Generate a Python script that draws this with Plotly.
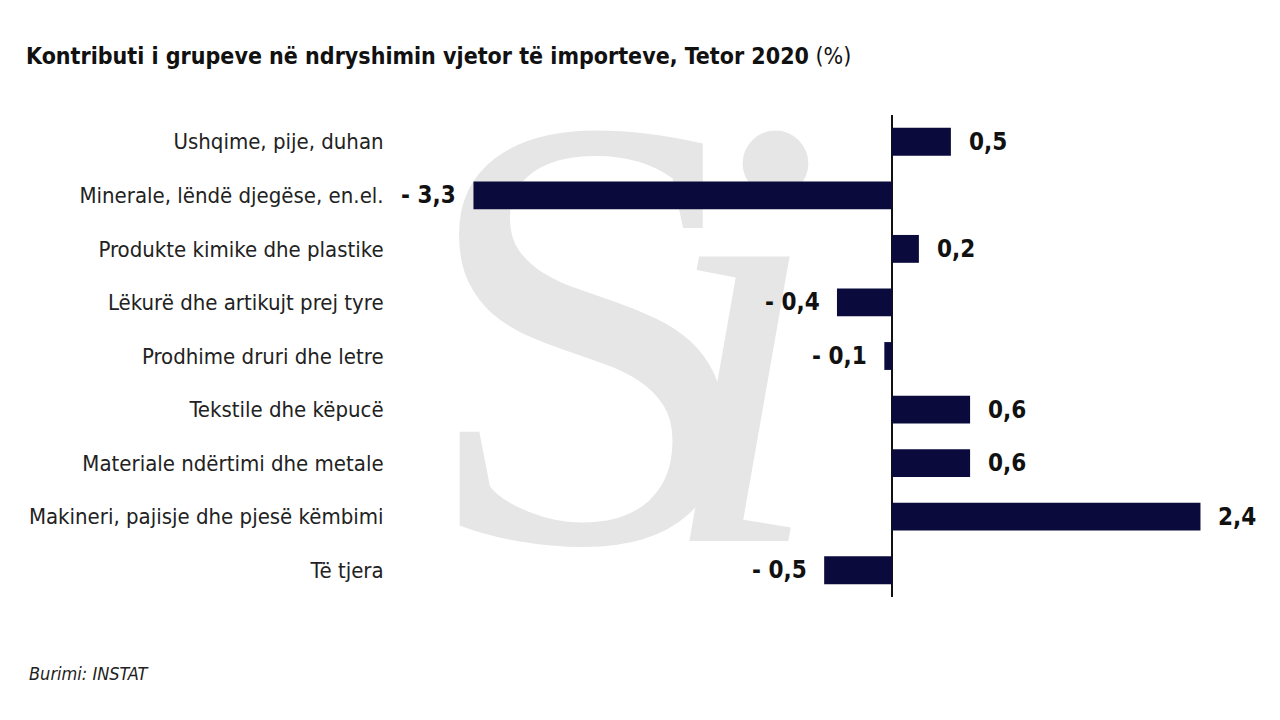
import plotly.graph_objects as go

categories = [
    "Ushqime, pije, duhan",
    "Minerale, lëndë djegëse, en.el.",
    "Produkte kimike dhe plastike",
    "Lëkurë dhe artikujt prej tyre",
    "Prodhime druri dhe letre",
    "Tekstile dhe këpucë",
    "Materiale ndërtimi dhe metale",
    "Makineri, pajisje dhe pjesë këmbimi",
    "Të tjera",
]
values = [0.46, -3.27, 0.21, -0.43, -0.06, 0.61, 0.61, 2.41, -0.53]
labels = ["0,5", "- 3,3", "0,2", "- 0,4", "- 0,1", "0,6", "0,6", "2,4", "- 0,5"]

NARROW = "Liberation Sans Narrow, Arial Narrow, DejaVu Sans Condensed, sans-serif"
BAR = "#0a0a3c"

L, R, T, B = 387, 20, 107, 131
W, H = 1280, 720
PW, PH = W - L - R, H - T - B

fig = go.Figure()

# watermark logo on base axes (pixel-like coords), drawn beneath the bar subplot
fig.add_trace(go.Scatter(
    x=[582], y=[378], mode="text", text=["S"], textposition="middle center",
    textfont=dict(family="Liberation Serif, DejaVu Serif, serif", size=620, color="#e6e6e6"),
    hoverinfo="skip", showlegend=False, xaxis="x", yaxis="y", cliponaxis=False,
))
fig.add_trace(go.Scatter(
    x=[733], y=[378], mode="text", text=["<i>i</i>"], textposition="middle center",
    textfont=dict(family="Liberation Serif, DejaVu Serif, serif", size=620, color="#e6e6e6"),
    hoverinfo="skip", showlegend=False, xaxis="x", yaxis="y", cliponaxis=False,
))

fig.add_trace(go.Bar(
    x=values, y=categories, orientation="h",
    marker=dict(color=BAR, line=dict(width=0)),
    width=0.52, xaxis="x2", yaxis="y2", showlegend=False, hoverinfo="skip",
))

annotations = []
for c, v, t in zip(categories, values, labels):
    annotations.append(dict(
        x=v, y=c, xref="x2", yref="y2", text=f"<b>{t}</b>", showarrow=False,
        xanchor="left" if v >= 0 else "right", xshift=16 if v >= 0 else -15,
        font=dict(family=NARROW, size=24, color="#111111"),
    ))
annotations.append(dict(
    x=(19 - L) / PW, y=-(665 - (H - B)) / PH, xref="paper", yref="paper",
    xanchor="left", yanchor="middle", showarrow=False, text="<i>Burimi: INSTAT</i>",
    font=dict(family=NARROW, size=18, color="#222222"),
))

fig.update_layout(
    width=W, height=H,
    margin=dict(l=L, r=R, t=T, b=B, autoexpand=False),
    paper_bgcolor="white", plot_bgcolor="rgba(0,0,0,0)",
    title=dict(
        text="<b>Kontributi i grupeve në ndryshimin vjetor të importeve, Tetor 2020</b> (%)",
        x=18 / W, xanchor="left", y=1 - 48 / H, yanchor="middle",
        font=dict(family=NARROW, size=23, color="#111111"),
    ),
    xaxis=dict(domain=[0, 1], range=[L, W - R], visible=False, fixedrange=True),
    yaxis=dict(domain=[0, 1], range=[H - B, T], visible=False, fixedrange=True),
    xaxis2=dict(overlaying="x", range=[-3.883, 2.9375], showgrid=False, showticklabels=False,
                zeroline=True, zerolinecolor="#111111", zerolinewidth=1.5, ticks=""),
    yaxis2=dict(overlaying="y", autorange="reversed", showgrid=False, ticks="outside", ticklen=0,
                ticklabelstandoff=6, tickfont=dict(family=NARROW, size=22, color="#222222"),
                categoryorder="array", categoryarray=categories, zeroline=False),
    annotations=annotations,
)
fig.write_html("out.html")
